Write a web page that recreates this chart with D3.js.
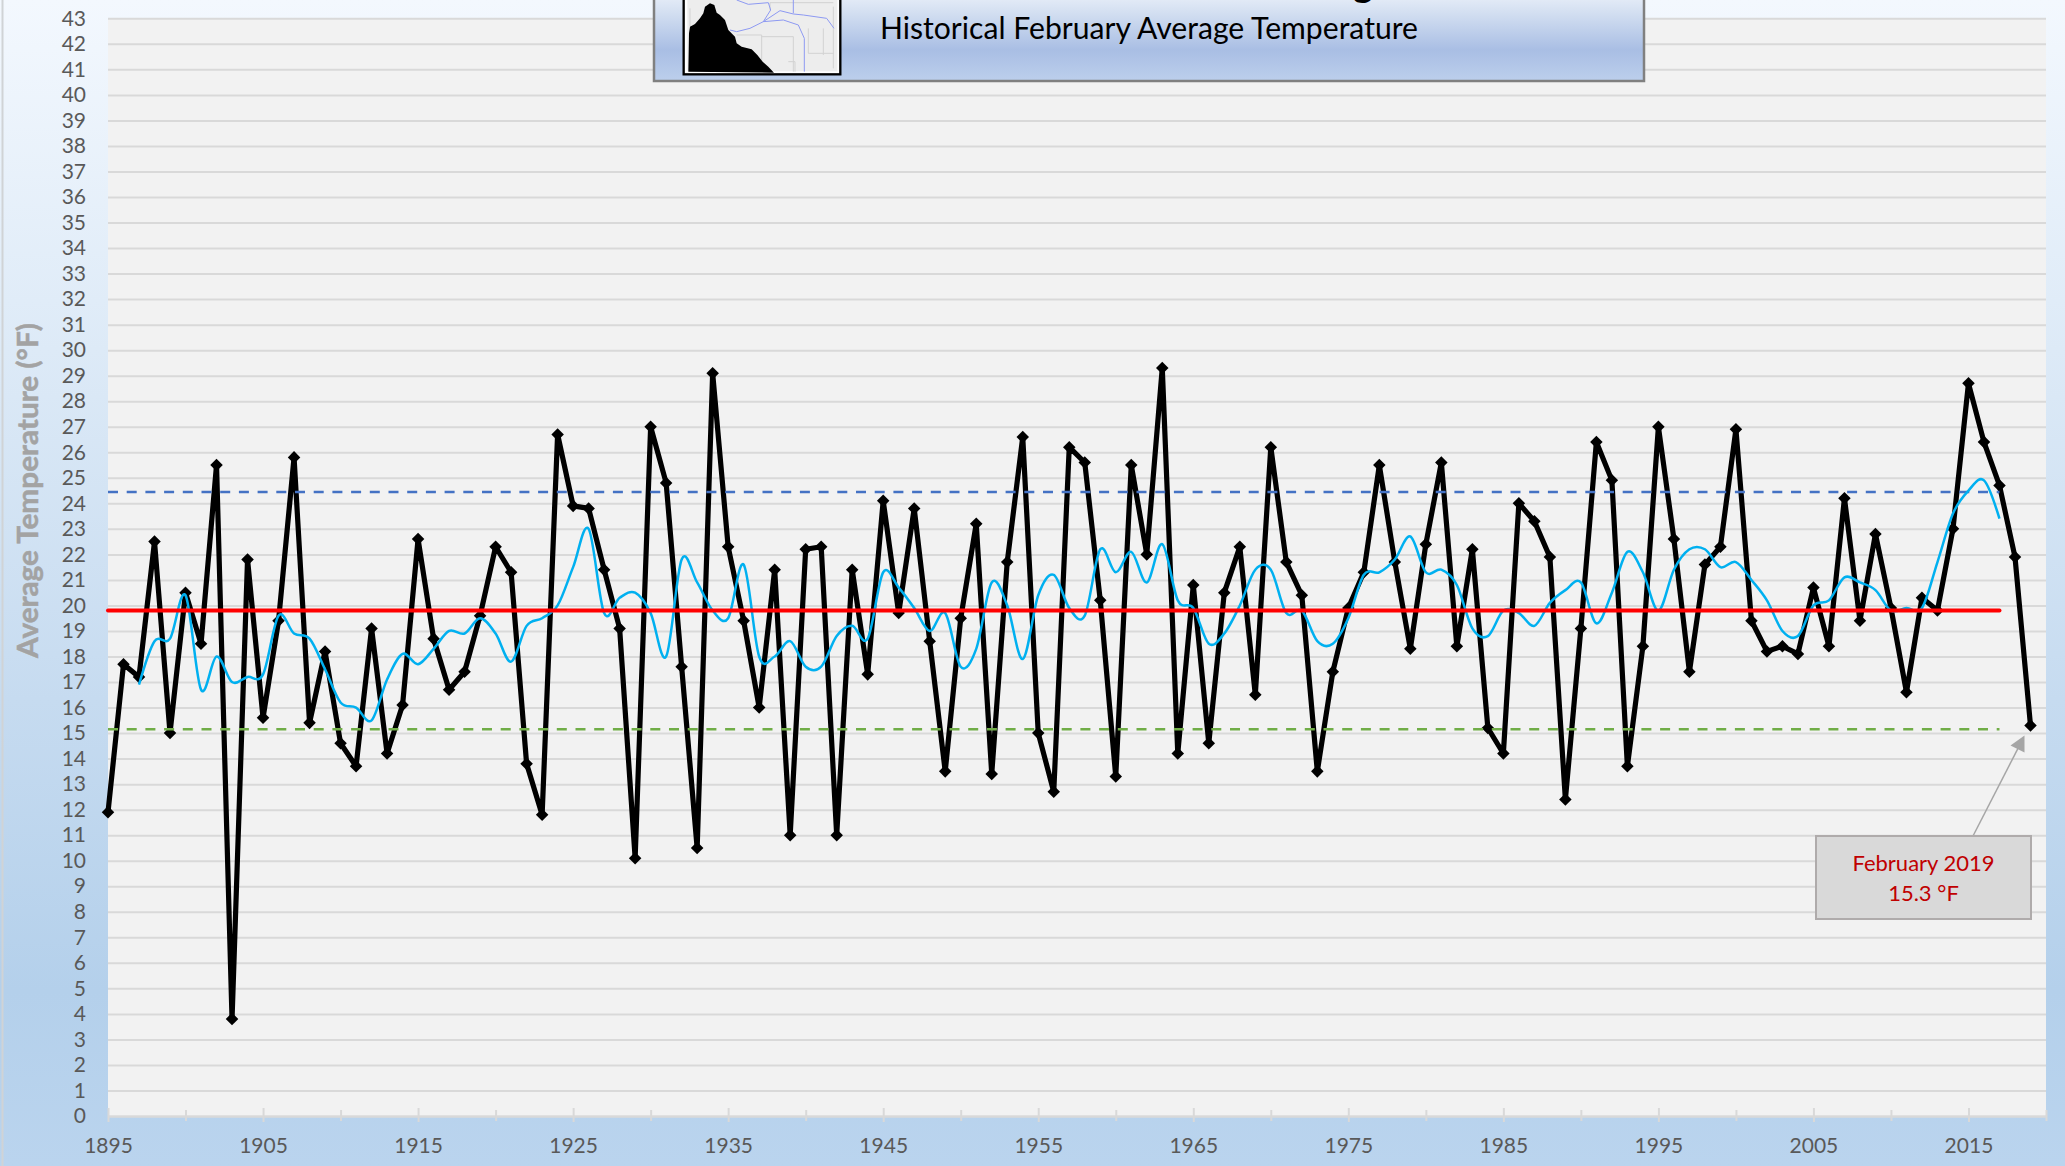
<!DOCTYPE html>
<html lang="en">
    <head>
        <meta charset="utf-8">
        <title>Historical February Average Temperature</title>
        <script src="https://d3js.org/d3.v7.min.js"></script>
        <style>
            html, body { margin: 0; padding: 0; overflow: hidden; }
            svg { display: block; font-family: Lato, "Open Sans", sans-serif; }
        </style>
    </head>
    <body>
        <svg id="chart" width="2065" height="1166"></svg>
    </body>
    <script>
        // February average by year, first value is 1895
        let startYear = 1895;
        let avgTemp = [
            11.9, 17.7, 17.2, 22.5, 15.0,
            20.5, 18.5, 25.5, 3.8, 21.8, 15.6, 19.4, 25.8, 15.4, 18.2,
            14.6, 13.7, 19.1, 14.2, 16.1, 22.6, 18.7, 16.7, 17.4, 19.6,
            22.3, 21.3, 13.8, 11.8, 26.7, 23.9, 23.8, 21.4, 19.1, 10.1,
            27.0, 24.8, 17.6, 10.5, 29.1, 22.3, 19.4, 16.0, 21.4, 11.0,
            22.2, 22.3, 11.0, 21.4, 17.3, 24.1, 19.7, 23.8, 18.6, 13.5,
            19.5, 23.2, 13.4, 21.7, 26.6, 15.0, 12.7, 26.2, 25.6, 20.2,
            13.3, 25.5, 22.0, 29.3, 14.2, 20.8, 14.6, 20.5, 22.3, 16.5,
            26.2, 21.7, 20.4, 13.5, 17.4, 19.9, 21.3, 25.5, 21.7, 18.3,
            22.4, 25.6, 18.4, 22.2, 15.2, 14.2, 24.0, 23.3, 21.9, 12.4,
            19.1, 26.4, 24.9, 13.7, 18.4, 27.0, 22.6, 17.4, 21.6, 22.3,
            26.9, 19.4, 18.2, 18.4, 18.1, 20.7, 18.4, 24.2, 19.4, 22.8,
            19.9, 16.6, 20.3, 19.8, 23.0, 28.7, 26.4, 24.7, 21.9, 15.3
        ];

        // cyan smoothed line, first value is 1897, last 2017
        let smoothStart = 1897;
        let smoothTemp = [
            16.9, 18.6, 18.7,
            20.4, 16.7, 18.0, 17.0, 17.2, 17.3, 19.6, 18.9, 18.7, 17.5,
            16.2, 16.0, 15.5, 17.1, 18.1, 17.7, 18.3, 19.0, 18.9, 19.5,
            18.9, 17.8, 19.2, 19.5, 20.0, 21.5, 23.0, 19.7, 20.3, 20.5,
            19.7, 18.0, 21.8, 20.9, 19.8, 19.5, 21.6, 18.0, 18.0, 18.6,
            17.6, 17.6, 18.8, 19.2, 18.7, 21.3, 20.7, 19.9, 19.0, 19.7,
            17.6, 18.3, 20.9, 20.0, 17.9, 20.4, 21.2, 19.9, 19.6, 22.2,
            21.3, 22.1, 20.9, 22.4, 20.2, 19.9, 18.5, 18.9, 20.0, 21.4,
            21.4, 19.7, 19.8, 18.6, 18.5, 19.5, 21.2, 21.3, 21.8, 22.7,
            21.3, 21.4, 20.8, 19.1, 18.8, 19.8, 19.7, 19.2, 20.1, 20.6,
            20.9, 19.3, 20.5, 22.1, 21.3, 19.8, 21.4, 22.2, 22.2, 21.5,
            21.7, 21.0, 20.2, 19.0, 18.8, 20.0, 20.2, 21.1, 20.9, 20.6,
            19.8, 19.9, 19.9, 21.7, 23.6, 24.5, 24.9, 23.4
        ];

        // horizontal reference lines
        let refYears = [1895, 2017];
        let refMean = [19.8, 19.8];
        let refUpper = [24.44, 24.44];
        let refLower = [15.15, 15.15];

        let xTickYears = d3.range(1895, 2021, 5);
        let yTickValues = d3.range(0, 44);
        let calloutLines = ["February 2019", "15.3 °F"];

        let body = d3.select("#chart");

        // plot area edges
        let margin = {left: 108, right: 19, top: 18.3, bottom: 50};
        let svgWidth = 2065;
        let svgHeight = 1166;
        let plotRight = svgWidth - margin.right;
        let plotBottom = svgHeight - margin.bottom;

        let xScale = d3.scaleLinear()
                        .domain([1895, 2020])
                        .range([margin.left, plotRight]);
        let yScale = d3.scaleLinear()
                        .domain([0, 43])
                        .range([plotBottom, margin.top]);

        let defs = body.append("defs");

        function addGradient(id, stops) {
            let g = defs.append("linearGradient")
                .attr("id", id)
                .attr("x1", 0).attr("y1", 0).attr("x2", 0).attr("y2", 1);
            stops.forEach(s => g.append("stop").attr("offset", s[0]).attr("stop-color", s[1]));
        }
        addGradient("pageFill", [[0, "#f3f8fe"], [0.3, "#ddeaf7"], [0.6, "#c6dbf0"], [0.85, "#b4d0eb"], [1, "#bad4ee"]]);
        addGradient("titleFill", [[0, "#edf2fa"], [0.25, "#d3dff1"], [0.66, "#a9bee4"], [1, "#bccfec"]]);

        // page and plot background
        body.append("rect")
            .attr("width", svgWidth).attr("height", svgHeight)
            .attr("fill", "url(#pageFill)");
        body.append("line")
            .attr("x1", 2.5).attr("x2", 2.5).attr("y1", 0).attr("y2", svgHeight)
            .attr("stroke", "#d0d3d6").attr("stroke-width", 2);
        body.append("rect")
            .attr("x", xScale(1895)).attr("y", yScale(43))
            .attr("width", xScale(2020) - xScale(1895))
            .attr("height", yScale(0) - yScale(43))
            .attr("fill", "#f2f2f2");

        // y axis, the ticks double as gridlines
        let yAxis = body.append("g")
            .attr("transform", "translate(" + margin.left + ",0)")
            .call(d3.axisLeft(yScale)
                .tickValues(yTickValues)
                .tickSize(-(plotRight - margin.left))
                .tickPadding(22)
                .tickFormat(d3.format("d")));
        yAxis.select(".domain").remove();
        yAxis.selectAll("line").attr("stroke", "#d9d9d9").attr("stroke-width", 2);
        yAxis.selectAll("text")
            .attr("fill", "#595959")
            .style("font-size", "21px")
            .style("font-family", "Lato");

        // x axis with longer ticks on every second label slot
        let xAxis = body.append("g")
            .attr("transform", "translate(0," + plotBottom + ")")
            .call(d3.axisBottom(xScale)
                .tickValues(xTickYears)
                .tickSize(0)
                .tickPadding(22)
                .tickFormat(d => (d - 1895) % 10 === 0 ? String(d) : ""));
        xAxis.select(".domain").attr("stroke", "#d9d9d9").attr("stroke-width", 2);
        xAxis.selectAll("line")
            .attr("stroke", "#d9d9d9")
            .attr("stroke-width", 2)
            .attr("y1", d => (d - 1895) % 10 === 0 ? -8 : -6)
            .attr("y2", d => (d - 1895) % 10 === 0 ? 6 : 5);
        xAxis.selectAll("text")
            .attr("fill", "#595959")
            .style("font-size", "21px")
            .style("font-family", "Lato");

        // axis title
        body.append("text")
            .attr("transform", "translate(38,490.5) rotate(-90)")
            .attr("text-anchor", "middle")
            .attr("textLength", 335)
            .attr("lengthAdjust", "spacingAndGlyphs")
            .attr("fill", "#a3a3a3")
            .attr("stroke", "#a3a3a3")
            .attr("stroke-width", 0.5)
            .style("font-size", "29px")
            .style("font-weight", "bold")
            .text("Average Temperature (°F)");

        // lines
        let tempData = avgTemp.map((v, i) => ({year: startYear + i, value: v}));
        let smoothData = smoothTemp.map((v, i) => ({year: smoothStart + i, value: v}));

        let valueLine = d3.line()
                            .x(d => xScale(d.year))
                            .y(d => yScale(d.value));
        let smoothLine = d3.line()
                            .x(d => xScale(d.year))
                            .y(d => yScale(d.value))
                            .curve(d3.curveCatmullRom.alpha(0));

        body.append("path")
            .datum(tempData)
            .attr("d", valueLine)
            .attr("fill", "none")
            .attr("stroke", "#000")
            .attr("stroke-width", 5.2)
            .attr("stroke-linejoin", "round");

        body.append("g").selectAll("path")
            .data(tempData)
            .join("path")
            .attr("transform", d => "translate(" + xScale(d.year) + "," + yScale(d.value) + ")")
            .attr("d", d3.symbol().type(d3.symbolDiamond2).size(100))
            .attr("fill", "#000");

        function refPath(values) {
            return valueLine(refYears.map((yr, i) => ({year: yr, value: values[i]})));
        }

        [[refUpper, "#4472c4"], [refLower, "#70ad47"]].forEach(r => {
            body.append("path")
                .attr("d", refPath(r[0]))
                .attr("fill", "none")
                .attr("stroke", r[1])
                .attr("stroke-width", 2.5)
                .attr("stroke-dasharray", "10,8.7");
        });

        body.append("path")
            .datum(smoothData)
            .attr("d", smoothLine)
            .attr("fill", "none")
            .attr("stroke", "#00b0f0")
            .attr("stroke-width", 2.5);

        body.append("path")
            .attr("d", refPath(refMean))
            .attr("fill", "none")
            .attr("stroke", "#ff0000")
            .attr("stroke-width", 4)
            .attr("stroke-linecap", "round");

        // callout for the last point
        let tipX = xScale(2019) - 6;
        let tipY = yScale(15.3) + 10;
        body.append("line")
            .attr("x1", 1973).attr("y1", 836)
            .attr("x2", tipX - 6).attr("y2", tipY + 12)
            .attr("stroke", "#a6a6a6").attr("stroke-width", 1.5);
        body.append("path")
            .attr("d", "M" + tipX + "," + tipY + "L" + (tipX - 14) + "," + (tipY + 10) + "L" + tipX + "," + (tipY + 17) + "Z")
            .attr("fill", "#a6a6a6");
        body.append("rect")
            .attr("x", 1816).attr("y", 836)
            .attr("width", 215).attr("height", 83)
            .attr("fill", "#d9d9d9")
            .attr("stroke", "#afabab")
            .attr("stroke-width", 2);
        body.append("g").selectAll("text")
            .data(calloutLines)
            .join("text")
            .attr("x", 1923.5)
            .attr("y", (d, i) => 871 + i * 30)
            .attr("text-anchor", "middle")
            .attr("fill", "#c00000")
            .style("font-size", "22px")
            .text(d => d);

        // title box, cut off by the top of the page like the original
        body.append("rect")
            .attr("x", 654).attr("y", -10)
            .attr("width", 990).attr("height", 91)
            .attr("fill", "url(#titleFill)")
            .attr("stroke", "#808080")
            .attr("stroke-width", 2.5);

        body.append("text")
            .attr("x", 1363).attr("y", -3)
            .attr("text-anchor", "middle")
            .attr("fill", "#000")
            .style("font-size", "38px")
            .style("font-weight", "bold")
            .text("g");

        body.append("text")
            .attr("x", 880).attr("y", 39)
            .attr("textLength", 538)
            .attr("lengthAdjust", "spacingAndGlyphs")
            .attr("fill", "#000")
            .style("font-size", "31px")
            .text("Historical February Average Temperature");

        // small station map in the title box
        let map = body.append("g").attr("transform", "translate(670,0) scale(0.3333)");
        map.append("rect")
            .attr("x", 41).attr("y", -20).attr("width", 470).attr("height", 243)
            .attr("fill", "#fff")
            .attr("stroke", "#000")
            .attr("stroke-width", 7);
        map.append("rect")
            .attr("x", 52).attr("y", -10).attr("width", 450).attr("height", 224)
            .attr("fill", "#ededed");
        map.append("path")
            .attr("d", "M60,25V80M300,8H490M300,8V30M200,105H275V215M275,110H370V215M415,85V160H490M355,185H375V215M460,85V165M490,20V205")
            .attr("fill", "none")
            .attr("stroke", "#d2d2d2")
            .attr("stroke-width", 3);
        map.append("path")
            .attr("d", "M200,0L235,13L295,8L302,30L280,65L240,85L200,95L180,90M280,65L330,32L370,42L400,45L470,55L492,85M280,65L340,60L385,75L403,115V215M370,0V40")
            .attr("fill", "none")
            .attr("stroke", "#8d99f2")
            .attr("stroke-width", 3)
            .attr("stroke-linejoin", "round");
        map.append("path")
            .attr("d", "M55,215L57,100L60,80L75,72L90,55L100,40L105,20L120,10L133,15L140,38L150,45L165,60L175,90L195,110L200,130L215,140L245,148L262,165L278,185L295,200L312,218Z")
            .attr("fill", "#000");
    </script>
</html>
